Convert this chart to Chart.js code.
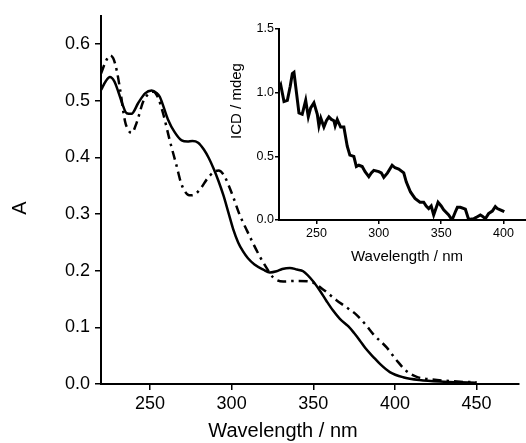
<!DOCTYPE html>
<html>
<head>
<meta charset="utf-8">
<script src="https://cdn.jsdelivr.net/npm/chart.js@4/dist/chart.umd.min.js"></script>
<style>
  html, body { margin: 0; padding: 0; background: #fff; }
  #wrap { position: relative; width: 526px; height: 443px; overflow: hidden; }
  #mainChart { position: absolute; left: 0; top: 0; }
  #insetChart { position: absolute; left: 225px; top: 15px; }
</style>
</head>
<body>
<div id="wrap">
  <canvas id="mainChart" width="526" height="443"></canvas>
  <canvas id="insetChart" width="301" height="255"></canvas>
</div>
<script>
// main absorption spectra (wavelength in nm, absorbance)
const solidNm = [220, 223, 225.5, 228, 230.6, 233, 235.7, 238.7, 242.8, 247, 251, 254, 256, 261, 265, 269.4, 273, 276, 279.5, 283, 286, 289, 292, 295, 298, 301, 304, 307, 310, 314, 319.4, 323.4, 327.5, 331, 335.7, 340, 343.8, 350, 354, 358, 362, 366.3, 371.4, 375, 378.5, 382, 386.7, 391, 396.9, 405, 415, 430, 440, 450];
const solidA = [0.519, 0.535, 0.542, 0.535, 0.516, 0.495, 0.478, 0.477, 0.496, 0.513, 0.518, 0.514, 0.507, 0.467, 0.445, 0.43, 0.428, 0.429, 0.426, 0.414, 0.399, 0.38, 0.358, 0.333, 0.303, 0.273, 0.25, 0.234, 0.222, 0.211, 0.202, 0.197, 0.199, 0.203, 0.205, 0.202, 0.199, 0.181, 0.165, 0.147, 0.13, 0.115, 0.102, 0.09, 0.077, 0.063, 0.048, 0.035, 0.021, 0.012, 0.007, 0.004, 0.003, 0.002];

const dashNm = [220, 223, 225.5, 227.5, 229.6, 231.7, 234.7, 237, 238.8, 241.8, 245.9, 249, 252, 255, 258, 262.2, 266.3, 269, 271.4, 274, 277, 281, 285, 289, 292, 295, 298, 301, 305, 309.2, 313.2, 317.3, 321.4, 325.5, 331.6, 339.8, 347.9, 356, 364.2, 370, 376.5, 382, 386.7, 394.8, 401, 407, 413, 423, 440, 450];
const dashA = [0.548, 0.57, 0.58, 0.575, 0.554, 0.52, 0.464, 0.447, 0.443, 0.461, 0.499, 0.512, 0.516, 0.505, 0.478, 0.429, 0.385, 0.355, 0.34, 0.333, 0.334, 0.345, 0.362, 0.374, 0.377, 0.37, 0.352, 0.33, 0.298, 0.272, 0.248, 0.225, 0.205, 0.188, 0.181, 0.182, 0.181, 0.167, 0.148, 0.136, 0.122, 0.105, 0.088, 0.065, 0.042, 0.023, 0.013, 0.008, 0.004, 0.003];

// inset ICD spectrum
const icdNm = [220, 221.4, 224, 226.7, 229, 230.7, 232, 234, 236, 238.6, 241.4, 243.5, 245.4, 248, 250.7, 252, 253.5, 256, 258, 260, 262, 264, 265, 266.7, 268, 269.4, 272, 274.7, 276.8, 280, 282, 284, 286.7, 289, 292, 294, 296, 300, 302, 304, 307, 310.7, 313, 316, 320, 322, 325.4, 329, 333, 336, 338, 340, 342, 344, 347.5, 350, 352, 356, 358.7, 361.4, 363, 365.4, 369.4, 372, 376, 378, 381.4, 383, 385.4, 388, 391, 393.4, 395, 397.4, 400.6];
const icdVal = [1.03, 1.06, 0.93, 0.94, 1.05, 1.15, 1.16, 1.0, 0.84, 0.83, 0.94, 0.81, 0.88, 0.92, 0.83, 0.74, 0.8, 0.73, 0.78, 0.81, 0.79, 0.78, 0.74, 0.79, 0.76, 0.73, 0.73, 0.58, 0.51, 0.5, 0.42, 0.43, 0.42, 0.38, 0.34, 0.37, 0.39, 0.38, 0.37, 0.335, 0.37, 0.43, 0.41, 0.4, 0.37, 0.3, 0.22, 0.17, 0.14, 0.14, 0.11, 0.09, 0.11, 0.04, 0.14, 0.11, 0.08, 0.04, 0.0, 0.065, 0.1, 0.1, 0.085, 0.005, 0.01, 0.02, 0.04, 0.03, 0.01, 0.05, 0.07, 0.105, 0.09, 0.08, 0.065];

const mainXTicks = [250, 300, 350, 400, 450];
const mainYTicks = [0.0, 0.1, 0.2, 0.3, 0.4, 0.5, 0.6];
const insetXTicks = [250, 300, 350, 400];
const insetYTicks = [0.0, 0.5, 1.0, 1.5];

const FONT = '"Liberation Sans", Arial, sans-serif';

function pts(xs, ys) {
  return xs.map((x, i) => ({ x: x, y: ys[i] }));
}

function titlesPlugin(items) {
  return {
    id: 'freeTitles',
    afterDraw(chart) {
      const ctx = chart.ctx;
      items.forEach(t => {
        ctx.save();
        ctx.font = `${t.size}px ${FONT}`;
        ctx.fillStyle = '#000';
        ctx.textAlign = 'center';
        ctx.textBaseline = 'middle';
        ctx.translate(t.x, t.y);
        ctx.rotate(t.rot || 0);
        ctx.fillText(t.text, 0, 0);
        ctx.restore();
      });
    }
  };
}

function axis(min, max, ticks, size, tickLen, pad, fixed, digits) {
  return {
    type: 'linear',
    min: min,
    max: max,
    afterBuildTicks: s => { s.ticks = ticks.map(v => ({ value: v })); },
    afterFit: s => { if (s.isHorizontal()) s.height = fixed; else s.width = fixed; },
    grid: { display: true, drawOnChartArea: false, drawTicks: true, tickLength: tickLen, color: '#000', lineWidth: 1.5 },
    border: { display: true, color: '#000', width: 2 },
    ticks: {
      color: '#000',
      padding: pad,
      font: { family: FONT, size: size },
      callback: v => digits ? Number(v).toFixed(digits) : String(v)
    }
  };
}

new Chart(document.getElementById('mainChart'), {
  type: 'line',
  data: {
    datasets: [
      {
        data: pts(solidNm, solidA),
        borderColor: '#000',
        borderWidth: 2.5,
        pointRadius: 0,
        tension: 0.4,
        cubicInterpolationMode: 'monotone'
      },
      {
        data: pts(dashNm, dashA),
        borderColor: '#000',
        borderWidth: 2.5,
        borderDash: [9, 5, 2.5, 5],
        pointRadius: 0,
        tension: 0.4,
        cubicInterpolationMode: 'monotone'
      }
    ]
  },
  options: {
    responsive: false,
    animation: false,
    devicePixelRatio: 1,
    layout: { padding: { top: 12, right: 7, left: 0, bottom: 0 } },
    plugins: { legend: { display: false }, tooltip: { enabled: false } },
    scales: {
      x: axis(220, 476, mainXTicks, 18, 6, 3, 59, 0),
      y: axis(0, 0.65, mainYTicks, 18, 6, 5, 101, 1)
    }
  },
  plugins: [titlesPlugin([
    { text: 'A', x: 20, y: 208, size: 20, rot: -Math.PI / 2 },
    { text: 'Wavelength / nm', x: 283, y: 431, size: 20 }
  ])]
});

new Chart(document.getElementById('insetChart'), {
  type: 'line',
  data: {
    datasets: [
      {
        data: pts(icdNm, icdVal),
        borderColor: '#000',
        borderWidth: 3,
        pointRadius: 0,
        tension: 0
      }
    ]
  },
  options: {
    responsive: false,
    animation: false,
    devicePixelRatio: 1,
    layout: { padding: { top: 14, right: 0, left: 0, bottom: 0 } },
    plugins: { legend: { display: false }, tooltip: { enabled: false } },
    scales: {
      x: axis(220, 418, insetXTicks, 12.5, 4, 2, 50, 0),
      y: axis(0, 1.5, insetYTicks, 12.5, 4, 1, 54, 1)
    }
  },
  plugins: [titlesPlugin([
    { text: 'ICD / mdeg', x: 12, y: 86, size: 15, rot: -Math.PI / 2 },
    { text: 'Wavelength / nm', x: 182, y: 242, size: 15 }
  ])]
});
</script>
</body>
</html>
